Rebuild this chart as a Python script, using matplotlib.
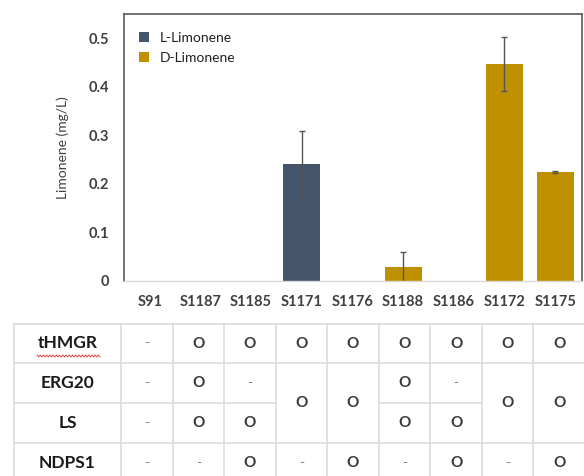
import numpy as np
import matplotlib
matplotlib.use("Agg")
import matplotlib.pyplot as plt
from matplotlib.patches import Patch

plt.rcParams['font.family'] = ['Lato', 'DejaVu Sans']

# ---- data ----
strains = ["S91", "S1187", "S1185", "S1171", "S1176", "S1188", "S1186", "S1172", "S1175"]
l_limonene = [0, 0, 0, 0.242, 0, 0, 0, 0, 0]
l_err = [0, 0, 0, 0.068, 0, 0, 0, 0, 0]
d_limonene = [0, 0, 0, 0, 0, 0.028, 0, 0.447, 0.224]
d_err = [0, 0, 0, 0, 0, 0.031, 0, 0.056, 0.002]
yticks = [0, 0.1, 0.2, 0.3, 0.4, 0.5]
ytick_labels = ["0", "0.1", "0.2", "0.3", "0.4", "0.5"]

row_names = ["tHMGR", "ERG20", "LS", "NDPS1"]
row_tHMGR = ["-", "O", "O", "O", "O", "O", "O", "O", "O"]
row_ERG20 = ["-", "O", "-", None, None, "O", "-", None, None]
row_LS = ["-", "O", "O", None, None, "O", "O", None, None]
row_NDPS1 = ["-", "-", "O", "-", "O", "-", "O", "-", "O"]
merged_ERG20_LS = [None, None, None, "O", "O", None, None, "O", "O"]

L_COLOR = "#44546A"
D_COLOR = "#BF9000"

W, H = 584, 476
fig = plt.figure(figsize=(W / 100, H / 100), dpi=100)

# ---- bar chart ----
ax = fig.add_axes([124 / W, 1 - 281 / H, (582 - 124) / W, (281 - 14) / H])
x = np.arange(len(strains))
errkw = dict(ecolor="#555555", elinewidth=1.0, capsize=2.5, capthick=1.0)
lmask = [v > 0 for v in l_limonene]
dmask = [v > 0 for v in d_limonene]
ax.bar(x[lmask], np.array(l_limonene)[lmask], width=0.73, color=L_COLOR,
       yerr=np.array(l_err)[lmask], error_kw=errkw, zorder=2)
ax.bar(x[dmask], np.array(d_limonene)[dmask], width=0.73, color=D_COLOR,
       yerr=np.array(d_err)[dmask], error_kw=errkw, zorder=2)
ax.set_xlim(-0.51, 8.53)
ax.set_ylim(0, 0.55)
ax.set_yticks(yticks)
ax.set_yticklabels(ytick_labels)
ax.set_xticks(x)
ax.set_xticklabels(strains)
ax.tick_params(axis="both", length=0, colors="#404040", labelsize=10.5)
ax.tick_params(axis="x", pad=10)
ax.tick_params(axis="y", pad=11)
for lab in ax.get_xticklabels() + ax.get_yticklabels():
    lab.set_fontweight("bold")
for s in ["top", "left", "right"]:
    ax.spines[s].set_color("#5a5a5a")
    ax.spines[s].set_linewidth(1.2)
ax.spines["bottom"].set_color("#d9d9d9")
ax.spines["bottom"].set_linewidth(1.0)
ax.set_ylabel("Limonene (mg/L)", fontsize=10, color="#404040")
ax.yaxis.set_label_coords(-0.12, 0.5)

handles = [Patch(facecolor=L_COLOR, label="L-Limonene"),
           Patch(facecolor=D_COLOR, label="D-Limonene")]
ax.legend(handles=handles, loc="upper left", bbox_to_anchor=(0.005, 0.98),
          frameon=False, fontsize=10, handlelength=0.7, handleheight=0.7,
          handletextpad=0.8, labelspacing=0.57, borderaxespad=0.5,
          labelcolor="#202020")

# ---- table ----
tax = fig.add_axes([0, 0, 1, 1])
tax.set_xlim(0, W)
tax.set_ylim(H, 0)
tax.axis("off")

left, label_right = 14, 121
col_w = (585 - label_right) / 9
col_edges = [label_right + i * col_w for i in range(10)]
row_edges = [324, 363, 403, 443, 483]
lc = "#dcdcdc"
lw = 1.2

for i, y in enumerate(row_edges):
    if i == 2:
        segs = [(left, col_edges[3]), (col_edges[5], col_edges[7])]
        for a, b in segs:
            tax.plot([a, b], [y, y], color=lc, lw=lw)
    else:
        tax.plot([left, W], [y, y], color=lc, lw=lw)
for xe in [left] + col_edges:
    tax.plot([xe, xe], [row_edges[0], row_edges[-1]], color=lc, lw=lw)


def cell_text(xc, yc, v):
    if v == "-":
        tax.text(xc, yc, v, ha="center", va="center", fontsize=10,
                 color="#808080")
    else:
        tax.text(xc, yc, v, ha="center", va="center", fontsize=11,
                 fontweight="bold", color="#3a3a3a")


rows = [row_tHMGR, row_ERG20, row_LS, row_NDPS1]
for r, (name, vals) in enumerate(zip(row_names, rows)):
    yc = (row_edges[r] + row_edges[r + 1]) / 2
    tax.text((left + label_right) / 2, yc, name, ha="center", va="center",
             fontsize=12.5, fontweight="bold", color="#1a1a1a")
    for c, v in enumerate(vals):
        if v is None:
            continue
        cell_text((col_edges[c] + col_edges[c + 1]) / 2, yc, v)
for c, v in enumerate(merged_ERG20_LS):
    if v is None:
        continue
    cell_text((col_edges[c] + col_edges[c + 1]) / 2, row_edges[2], v)

# spell-check squiggle under tHMGR
sx = np.linspace(37, 100, 40)
sy = 356 + 1.0 * np.where(np.arange(40) % 2 == 0, -1, 1)
tax.plot(sx, sy, color="#e03030", lw=0.6)

fig.savefig("out.png", dpi=100)
